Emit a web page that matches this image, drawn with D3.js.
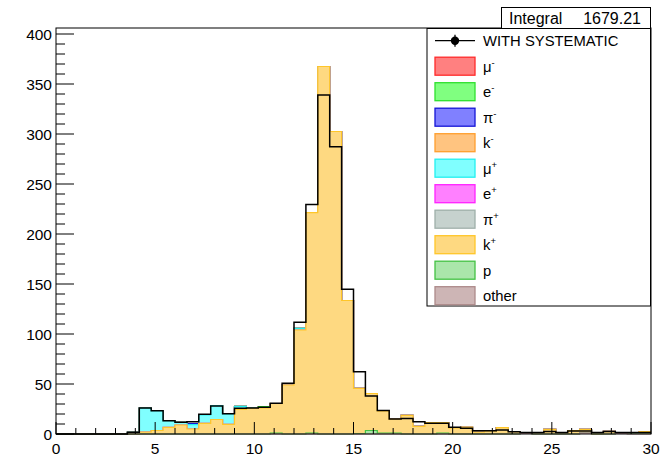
<!DOCTYPE html>
<html>
<head>
<meta charset="utf-8">
<script src="https://cdn.jsdelivr.net/npm/d3@7"></script>
<style>
  html, body { margin: 0; padding: 0; background: #fff; }
  svg { display: block; }
  text { font-family: "Liberation Sans", Arial, Helvetica, sans-serif; fill: #000; }
</style>
</head>
<body>
<svg id="chart" width="669" height="456"></svg>
<script>
// Histogram binning: 50 bins of width 0.6 over [0, 30]
const nBins = 50;
const xMin = 0, xMax = 30;
const binEdges = d3.range(nBins + 1).map(i => +(xMin + i * (xMax - xMin) / nBins).toFixed(4));

const xTicks = [0, 5, 10, 15, 20, 25, 30];
const yTicks = [0, 50, 100, 150, 200, 250, 300, 350, 400];
const integralLabel = "Integral";
const integralValue = "1679.21";

// Total with systematic uncertainty (drawn as black step line)
const withSystematic = [0,0,0,0,0,0,1.7,26,23.3,13.3,11.7,12.3,19.7,28,20.3,25.7,26,26.7,30.7,50.7,
  111.7,229.5,339,287.3,144.7,62.3,38,23.5,15,15.5,12.3,10.7,10.7,6.7,5.7,3.3,3.3,4,2.3,1.5,
  1.5,2.5,1.5,3,3,1.5,2.5,1.5,1.5,1.5];

// Stacked species contributions
const muMinus  = new Array(50).fill(0);
const eMinus   = [0,0,0,0,0,0,0,0,0,0,0,0,0,0,0,0,0,1.5,0,0,0,0,0,0,0,0,0,0,0,0,0,0,0,0,0,0,0,0,0,0,0,0,0,0,0,0,0,0,0,0];
const piMinus  = [0,0,0,0,0,0,0,0,0,0,0,1.2,0,0,0,0,0,0,0,0,0,0,0,0,0,0,0,0,0,0,0,0,0,0,0,0,0,0,0,0,0,0,0,0,0,0,0,0,0,0];
const kMinus   = new Array(50).fill(0);
const muPlus   = [0,0,0,0,0,0,1.7,24,19.8,6.6,2.7,4.3,8.5,14,10.3,3,0.5,0,0,0,1.7,0,0,0,0,0,0,0,0,0,0,0,0,0,0,0,0,0,0,0,0,0,0,0,0,0,0,0,0,0];
const ePlus    = new Array(50).fill(0);
const piPlus   = [0,0,0,0,0,0,0,0,0,0,0,0,0,0,0,0,0,0,0,0,0,0,0,0,0,0,0,0,0,0,0,0,0,0,0,0,0,0,0,0,0,0,0,0,0,1.2,0,0,0,0];
const kPlus    = [0,0,0,0,0,0,0,2,3.5,6.7,9,5,10.7,14.5,9.7,24.7,25.5,26,29.5,49,
  104,220.3,367.5,302.5,133.5,45.2,37,22,14,18.7,7.7,11.5,10.5,6,6.8,2,3,6.3,2.5,1,
  1.5,4.7,1.5,3.5,3.5,0,2.7,1,0,1.5];
const proton   = [0,0,0,0,0,0,0,0,0,0,0,0,0,0,0,0,0,0,1,0,0,1,0,0,0,0.5,3.5,1,1,0,0,0,1,0,0,0,0,0,0,0,0,0,0,0,0,0,0,0,1,1];
const other    = [0,0,0,0,0,0,0,0,0,0,0,0,0,0,0,0,0,0,0,0,0,0,0,0,0,0,0,0,0,0,0,0,0,0,0,0,0,0,0,0.5,0,0,0,0,1.2,0,0,0.5,0,0];

// Legend order (top to bottom in the legend box)
const species = [
  { name: "μ", sup: "-", values: muMinus, fill: "#ff8080", line: "#ff2a2a" },
  { name: "e", sup: "-", values: eMinus,  fill: "#80ff80", line: "#2ee02e" },
  { name: "π", sup: "-", values: piMinus, fill: "#8080ff", line: "#1414d6" },
  { name: "k", sup: "-", values: kMinus,  fill: "#ffc480", line: "#ff9f2e" },
  { name: "μ", sup: "+", values: muPlus,  fill: "#80ffff", line: "#22f0f0" },
  { name: "e", sup: "+", values: ePlus,   fill: "#ff80ff", line: "#ff22ff" },
  { name: "π", sup: "+", values: piPlus,  fill: "#c6d2ce", line: "#9fb0aa" },
  { name: "k", sup: "+", values: kPlus,   fill: "#fed981", line: "#ffc629" },
  { name: "p", sup: "",  values: proton,  fill: "#aae6aa", line: "#44c244" },
  { name: "other", sup: "", values: other, fill: "#cdb5b5", line: "#ad8a8a" }
];

const svg = d3.select("#chart");
const frame = { left: 56, right: 651, top: 28, bottom: 434 };

const x = d3.scaleLinear().domain([xMin, xMax]).range([frame.left, frame.right]);
const y = d3.scaleLinear().domain([0, 406]).range([frame.bottom, frame.top]);

// Step-shaped point list for a histogram
function stepPoints(vals) {
  const pts = [];
  vals.forEach((v, i) => {
    pts.push([binEdges[i], v]);
    pts.push([binEdges[i + 1], v]);
  });
  return pts;
}

const area = d3.area().x(d => x(d[0])).y0(y(0)).y1(d => y(d[1]));
const line = d3.line().x(d => x(d[0])).y(d => y(d[1]));

// Stack: bottom-most layer is the last legend entry
const stackOrder = species.slice().reverse();
let running = new Array(nBins).fill(0);
const cumulative = stackOrder.map(s => {
  running = running.map((r, i) => r + s.values[i]);
  return { s, cum: running.slice() };
});

const gStack = svg.append("g");
// Paint from the tallest cumulative down so lower layers overlay the upper ones
cumulative.slice().reverse().forEach(({ s, cum }) => {
  const pts = stepPoints(cum);
  gStack.append("path").attr("d", area(pts)).attr("fill", s.fill).attr("stroke", "none");
  gStack.append("path").attr("d", line(pts)).attr("fill", "none")
    .attr("stroke", s.line).attr("stroke-width", 1.2);
});

// Systematic total
svg.append("path")
  .attr("d", line(stepPoints(withSystematic)))
  .attr("fill", "none").attr("stroke", "#000").attr("stroke-width", 1.5);

// Frame
svg.append("rect")
  .attr("x", frame.left).attr("y", frame.top)
  .attr("width", frame.right - frame.left).attr("height", frame.bottom - frame.top)
  .attr("fill", "none").attr("stroke", "#000").attr("stroke-width", 1);

// X axis ticks (inside, upward)
const gx = svg.append("g");
d3.range(xMin, xMax + 1, 1).forEach(v => {
  const major = xTicks.includes(v);
  gx.append("line").attr("x1", x(v)).attr("x2", x(v))
    .attr("y1", frame.bottom).attr("y2", frame.bottom - (major ? 12 : 6))
    .attr("stroke", "#000").attr("stroke-width", 1);
});
xTicks.forEach(v => {
  gx.append("text").attr("x", x(v)).attr("y", 454)
    .attr("text-anchor", "middle").attr("font-size", 15.5).text(v);
});

// Y axis ticks (inside, to the right)
const gy = svg.append("g");
d3.range(0, 401, 10).forEach(v => {
  const major = yTicks.includes(v);
  gy.append("line").attr("x1", frame.left).attr("x2", frame.left + (major ? 18 : 9))
    .attr("y1", y(v)).attr("y2", y(v))
    .attr("stroke", "#000").attr("stroke-width", 1);
});
yTicks.forEach(v => {
  gy.append("text").attr("x", 52).attr("y", y(v) + 5.5)
    .attr("text-anchor", "end").attr("font-size", 15.5).text(v);
});

// Statistics box
const stat = svg.append("g");
stat.append("rect").attr("x", 501.5).attr("y", 7.5).attr("width", 149).attr("height", 21)
  .attr("fill", "#fff").attr("stroke", "#000").attr("stroke-width", 1);
stat.append("text").attr("x", 509).attr("y", 24).attr("font-size", 16).text(integralLabel);
stat.append("text").attr("x", 641).attr("y", 24).attr("font-size", 16)
  .attr("text-anchor", "end").text(integralValue);

// Legend
const leg = svg.append("g");
leg.append("rect").attr("x", 427).attr("y", 28.5).attr("width", 223.5).attr("height", 277.5)
  .attr("fill", "#fff").attr("stroke", "#000").attr("stroke-width", 1);
const rowY = i => 40.7 + i * 25.5;
// Systematic entry: line with marker and error bar
leg.append("line").attr("x1", 435).attr("x2", 475).attr("y1", rowY(0)).attr("y2", rowY(0))
  .attr("stroke", "#000").attr("stroke-width", 1.3);
leg.append("line").attr("x1", 455).attr("x2", 455).attr("y1", rowY(0) - 6).attr("y2", rowY(0) + 6)
  .attr("stroke", "#000").attr("stroke-width", 1.3);
leg.append("circle").attr("cx", 455).attr("cy", rowY(0)).attr("r", 4.2).attr("fill", "#000");
leg.append("text").attr("x", 483).attr("y", rowY(0) + 5.4).attr("font-size", 14.8).text("WITH SYSTEMATIC");

species.forEach((s, k) => {
  const cy = rowY(k + 1);
  leg.append("rect").attr("x", 435).attr("y", cy - 9).attr("width", 40).attr("height", 18)
    .attr("fill", s.fill).attr("stroke", s.line).attr("stroke-width", 1.3);
  const t = leg.append("text").attr("x", 483).attr("y", cy + 5.4).attr("font-size", 14.8);
  t.append("tspan").text(s.name);
  if (s.sup) {
    t.append("tspan").attr("dy", -6).attr("font-size", 9.5).text(s.sup);
  }
});
</script>
</body>
</html>
